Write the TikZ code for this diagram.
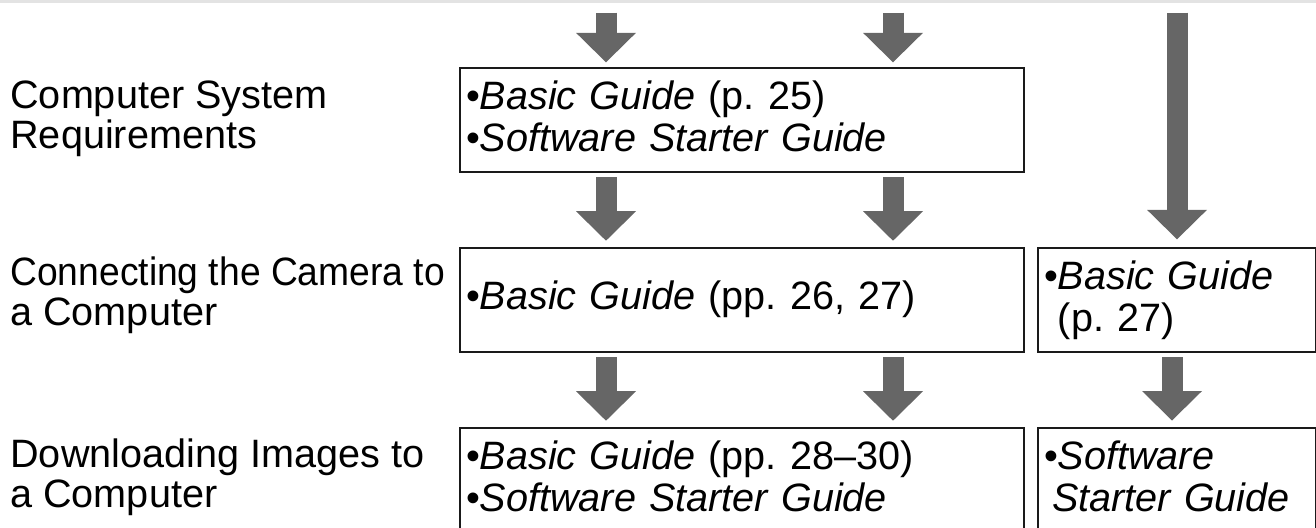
\documentclass[tikz,border=0pt]{standalone}
\usepackage{fontspec}
\setmainfont{Liberation Sans}
\usetikzlibrary{arrows.meta}
\usepackage{xcolor}
\definecolor{arrowgray}{HTML}{666666}
\definecolor{rulegray}{HTML}{E3E3E3}
\definecolor{boxblack}{HTML}{1A1A1A}
\frenchspacing

\begin{document}
\begin{tikzpicture}[
    x=0.5pt, y=-0.5pt,
    every node/.style={inner sep=0pt, font=\fontsize{19.8}{20}\selectfont},
    stagelabel/.style={anchor=north west, align=left},
    guidebox/.style={draw=boxblack, line width=1pt, anchor=north west, align=left, inner xsep=3pt, font=\fontsize{19.8}{21}\selectfont},
    widebox/.style={guidebox, text width=275.75pt},
    narrowbox/.style={guidebox, text width=133pt},
    flowarrow/.style={draw=arrowgray, line width=10.5pt, -{Triangle[width=30pt, length=14.75pt, line width=0pt]}, shorten <=2.3pt, shorten >=3pt},
]
\useasboundingbox (0,0) rectangle (1316,527);
\clip (0,0) rectangle (1316,527);
\fill[rulegray] (0,0) rectangle (1316,2.5);

% stages on the left
\node[stagelabel] (reqlabel) at (10,68.3) {\rule{0pt}{20pt}Computer System\\Requirements};
\node[stagelabel] (connlabel) at (10,245) {\rule{0pt}{20pt}\scalebox{0.94}[1]{Connecting the Camera to}\\a Computer};
\node[stagelabel] (dllabel) at (10,426.7) {\rule{0pt}{20pt}Downloading Images to\\a Computer};

% guide boxes
\node[widebox] (reqbox) at (459,66.7) {\rule{0pt}{21pt}•\textit{Basic Guide} (p. 25)\\•\textit{Software Starter Guide}\rule[-10pt]{0pt}{10pt}};
\node[widebox] (connbox) at (459,246.7) {\rule{0pt}{31pt}•\textit{Basic Guide} (pp. 26, 27)\rule[-21pt]{0pt}{21pt}};
\node[narrowbox] (connalt) at (1037,246.5) {\rule{0pt}{21pt}•\textit{Basic Guide}\\\phantom{•}(p. 27)\rule[-10pt]{0pt}{10pt}};
\node[widebox] (dlbox) at (459,426.7) {\rule{0pt}{21pt}•\textit{Basic Guide} (pp. 28–30)\\•\textit{Software Starter Guide}\rule[-10pt]{0pt}{10pt}};
\node[narrowbox] (dlalt) at (1037,426.5) {\rule{0pt}{21pt}•\textit{Software}\\\hspace*{4pt}\textit{Starter Guide}\rule[-10pt]{0pt}{10pt}};

% arrows
\coordinate (in1) at (606,12.7);
\coordinate (in2) at (893,12.7);
\coordinate (in3) at (1177,12.7);
\coordinate (altcol) at (1172,0);
\draw[flowarrow, shorten <=0pt, shorten >=2.2pt] (in1) -- (in1 |- reqbox.north);
\draw[flowarrow, shorten <=0pt, shorten >=2.2pt] (in2) -- (in2 |- reqbox.north);
\draw[flowarrow, shorten <=0pt, shorten >=3.6pt] (in3) -- (in3 |- connalt.north);
\draw[flowarrow] (in1 |- reqbox.south) -- (in1 |- connbox.north);
\draw[flowarrow] (in2 |- reqbox.south) -- (in2 |- connbox.north);
\draw[flowarrow] (in1 |- connbox.south) -- (in1 |- dlbox.north);
\draw[flowarrow] (in2 |- connbox.south) -- (in2 |- dlbox.north);
\draw[flowarrow] (altcol |- connalt.south) -- (altcol |- dlalt.north);

\end{tikzpicture}
\end{document}
